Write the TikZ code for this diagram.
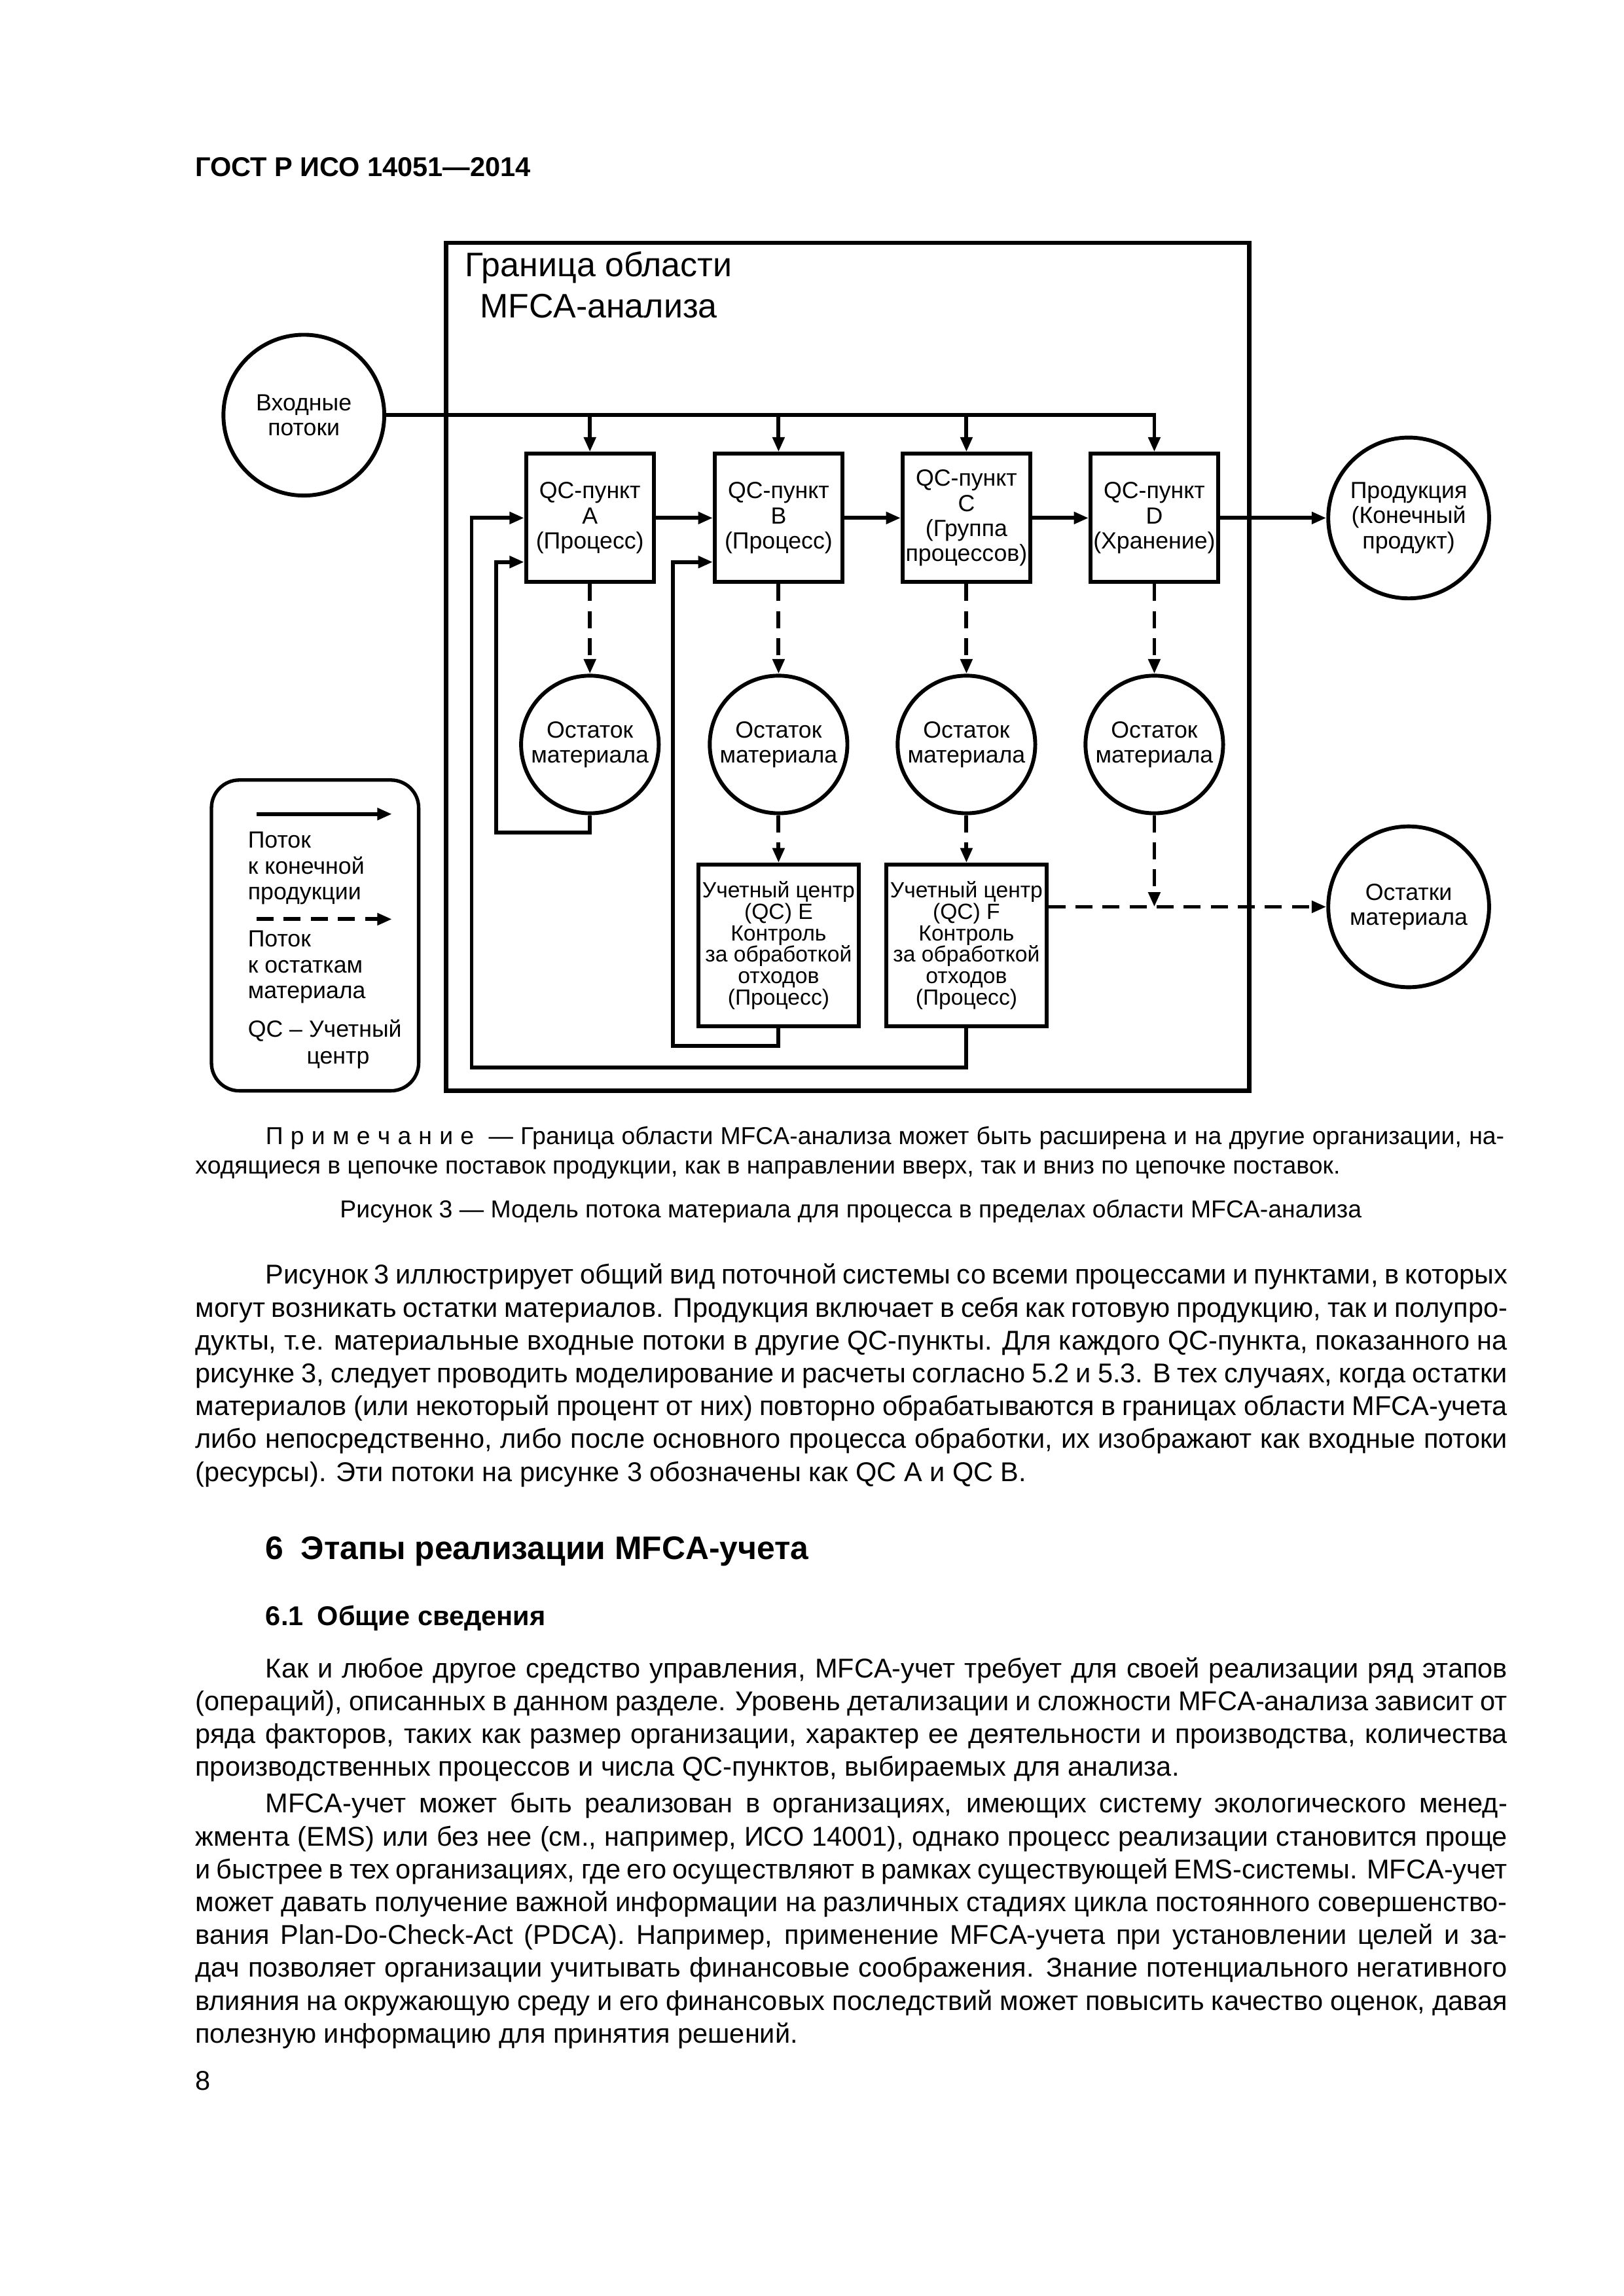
\documentclass[tikz,border=0pt]{standalone}
\usepackage{fontspec}
\setmainfont{Liberation Sans}
\usetikzlibrary{arrows.meta}

\newcommand{\diagfont}{\fontsize{8.6}{9.2}\selectfont}
\newcommand{\ccfont}{\fontsize{8.1}{7.9}\selectfont}
\newcommand{\bodyfont}{\fontsize{10}{12}\selectfont\spaceskip=0.278em plus 0.5em minus 0.16em\relax}
\newcommand{\notefont}{\fontsize{9}{10.8}\selectfont\spaceskip=0.278em plus 0.5em minus 0.16em\relax}

\tikzset{
  qcbox/.style={draw,line width=0.5mm,minimum width=16.5mm,minimum height=16.6mm,inner sep=0pt,align=center,font=\diagfont},
  ccbox/.style={draw,line width=0.5mm,minimum width=20.7mm,minimum height=20.9mm,inner sep=0pt,align=center,font=\ccfont},
  pool/.style={circle,draw,line width=0.5mm,minimum size=17.8mm,inner sep=0pt,align=center,font=\diagfont},
  bigpool/.style={pool,minimum size=20.8mm},
  flow/.style={line width=0.5mm,-{Triangle[length=1.9mm,width=1.5mm]}},
  rest/.style={flow,dash pattern=on 2.2mm off 1.3mm},
  txtline/.style={anchor=base west,inner sep=0pt,font=\bodyfont}
}

\begin{document}
\begin{tikzpicture}[x=1mm,y=-1mm]
  \fill[white] (0,0) rectangle (210,297);
  \useasboundingbox (0,0) rectangle (210,297);
  %% Header
  \node[anchor=base west,inner sep=0pt,font=\bfseries\fontsize{10}{12}\selectfont] (header) at (25.2,22.8) {ГОСТ Р ИСО 14051—2014};

  %% Boundary of the analysis
  \draw[line width=0.55mm] (57.7,31.4) rectangle (161.6,141.1);
  \node[anchor=base west,inner sep=0pt,font=\fontsize{12.5}{15}\selectfont] (title1) at (60.1,35.8) {Граница области};
  \node[anchor=base west,inner sep=0pt,font=\fontsize{12.5}{15}\selectfont] (title2) at (62.0,41.1) {MFCA-анализа};

  %% Pools
  \node[bigpool] (inflow) at (39.3,53.7) {Входные\\потоки};
  \node[bigpool] (product) at (182.2,67.0) {Продукция\\(Конечный\\продукт)};
  \node[bigpool] (waste) at (182.2,117.3) {Остатки\\материала};

  %% Quantity centres
  \node[qcbox] (qcA) at (76.3,67.0) {QC-пункт\\A\\(Процесс)};
  \node[qcbox] (qcB) at (100.7,67.0) {QC-пункт\\B\\(Процесс)};
  \node[qcbox] (qcC) at (125.0,67.0) {QC-пункт\\C\\(Группа\\процессов)};
  \node[qcbox] (qcD) at (149.3,67.0) {QC-пункт\\D\\(Хранение)};
  \foreach \l/\x in {A/76.3,B/100.7,C/125.0,D/149.3}
    \node[pool] (rest\l) at (\x,96.3) {Остаток\\материала};
  \node[ccbox] (ccE) at (100.7,122.3) {Учетный центр\\(QC) E\\Контроль\\за обработкой\\отходов\\(Процесс)};
  \node[ccbox] (ccF) at (125.0,122.3) {Учетный центр\\(QC) F\\Контроль\\за обработкой\\отходов\\(Процесс)};

  %% Flows to the product
  \draw[flow] (inflow) -- (qcD.north |- inflow) -- (qcD.north);
  \foreach \q in {qcA,qcB,qcC}
    \draw[flow] (\q.north |- inflow) -- (\q.north);
  \draw[flow] (qcA) -- (qcB);
  \draw[flow] (qcB) -- (qcC);
  \draw[flow] (qcC) -- (qcD);
  \draw[flow] (qcD) -- (product);

  %% Flows to the material loss
  \foreach \l in {A,B,C,D}
    \draw[rest] (qc\l) -- (rest\l);
  \draw[rest] (restB) -- (ccE);
  \draw[rest] (restC) -- (ccF);
  \draw[rest] (ccF.east |- waste) -- (waste);
  \draw[rest] (restD) -- (restD |- waste);

  %% Recycling loops
  \coordinate (loopA) at (64.2,107.7);
  \coordinate (loopB) at (87.0,135.3);
  \coordinate (loopO) at (61.0,138.1);
  \draw[flow] (restA.south) |- (loopA) |- ([yshift=-5.7mm]qcA.west);
  \draw[flow] (ccE.south) |- (loopB) |- ([yshift=-5.7mm]qcB.west);
  \draw[flow] (ccF.south) |- (loopO) |- (qcA.west);

  %% Legend
  \node[draw,line width=0.45mm,rounded corners=3.6mm,minimum width=26.8mm,minimum height=40.2mm] (legend) at (40.75,121.0) {};
  \coordinate (legsolidL) at (33.2,105.3);
  \coordinate (legsolidR) at (50.7,105.3);
  \coordinate (legdashL) at (33.2,118.9);
  \coordinate (legdashR) at (50.7,118.9);
  \draw[flow] (legsolidL) -- (legsolidR);
  \draw[rest] (legdashL) -- (legdashR);
  \node[anchor=west,inner sep=0pt,align=left,font=\fontsize{8.6}{9.5}\selectfont] (legtext1) at (32.0,112.3) {Поток\\к конечной\\продукции};
  \node[anchor=west,inner sep=0pt,align=left,font=\fontsize{8.6}{9.5}\selectfont] (legtext2) at (32.0,125.1) {Поток\\к остаткам\\материала};
  \node[anchor=west,inner sep=0pt,align=left,font=\fontsize{8.6}{9.9}\selectfont] (legtext3) at (32.0,135.1) {QC – Учетный\\\hspace*{7.6mm}центр};

  %% Note and caption
  \node[txtline,font=\notefont] (note1) at (34.3,148.0) {\makebox[160.2mm][s]{П р и м е ч а н и е \ — Граница области MFCA-анализа может быть расширена и на другие организации, на-}};
  \node[txtline,font=\notefont] (note2) at (25.2,151.8) {ходящиеся в цепочке поставок продукции, как в направлении вверх, так и вниз по цепочке поставок.};
  \node[anchor=base,inner sep=0pt,font=\fontsize{9}{10.8}\selectfont] (caption) at (110.05,157.5) {Рисунок 3 — Модель потока материала для процесса в пределах области MFCA-анализа};

  %% Paragraph 1
  \node[txtline] (p1-0) at (34.3,166.1) {\makebox[160.6mm][s]{Рисунок 3 иллюстрирует общий вид поточной системы со всеми процессами и пунктами, в которых}};
  \foreach \txt [count=\i] in {
    {могут возникать остатки материалов. Продукция включает в себя как готовую продукцию, так и полупро-},
    {дукты, т.е. материальные входные потоки в другие QC-пункты. Для каждого QC-пункта, показанного на},
    {рисунке 3, следует проводить моделирование и расчеты согласно 5.2 и 5.3. В тех случаях, когда остатки},
    {материалов (или некоторый процент от них) повторно обрабатываются в границах области MFCA-учета},
    {либо непосредственно, либо после основного процесса обработки, их изображают как входные потоки}}
    \node[txtline] (p1-\i) at (25.2,166.1+4.25*\i) {\makebox[169.7mm][s]{\txt}};
  \node[txtline] (p1-6) at (25.2,166.1+4.25*6) {(ресурсы). Эти потоки на рисунке 3 обозначены как QC A и QC B.};

  %% Section headings
  \node[anchor=base west,inner sep=0pt,font=\bfseries\fontsize{12}{14}\selectfont] (sec6) at (34.3,201.7) {6\hspace{2.2mm}Этапы реализации MFCA-учета};
  \node[anchor=base west,inner sep=0pt,font=\bfseries\fontsize{10}{12}\selectfont] (sec61) at (34.3,210.3) {6.1\hspace{1.8mm}Общие сведения};

  %% Paragraph 2
  \node[txtline] (p2-0) at (34.3,217.0) {\makebox[160.6mm][s]{Как и любое другое средство управления, MFCA-учет требует для своей реализации ряд этапов}};
  \foreach \txt [count=\i] in {
    {(операций), описанных в данном разделе. Уровень детализации и сложности MFCA-анализа зависит от},
    {ряда факторов, таких как размер организации, характер ее деятельности и производства, количества}}
    \node[txtline] (p2-\i) at (25.2,217.0+4.25*\i) {\makebox[169.7mm][s]{\txt}};
  \node[txtline] (p2-3) at (25.2,217.0+4.25*3) {производственных процессов и числа QC-пунктов, выбираемых для анализа.};

  %% Paragraph 3
  \node[txtline] (p3-0) at (34.3,234.5) {\makebox[160.6mm][s]{MFCA-учет может быть реализован в организациях, имеющих систему экологического менед-}};
  \foreach \txt [count=\i] in {
    {жмента (EMS) или без нее (см., например, ИСО 14001), однако процесс реализации становится проще},
    {и быстрее в тех организациях, где его осуществляют в рамках существующей EMS-системы. MFCA-учет},
    {может давать получение важной информации на различных стадиях цикла постоянного совершенство-},
    {вания Plan-Do-Check-Act (PDCA). Например, применение MFCA-учета при установлении целей и за-},
    {дач позволяет организации учитывать финансовые соображения. Знание потенциального негативного},
    {влияния на окружающую среду и его финансовых последствий может повысить качество оценок, давая}}
    \node[txtline] (p3-\i) at (25.2,234.5+4.25*\i) {\makebox[169.7mm][s]{\txt}};
  \node[txtline] (p3-7) at (25.2,234.5+4.25*7) {полезную информацию для принятия решений.};

  %% Page number
  \node[txtline] (pagenum) at (25.2,270.4) {8};
\end{tikzpicture}
\end{document}
